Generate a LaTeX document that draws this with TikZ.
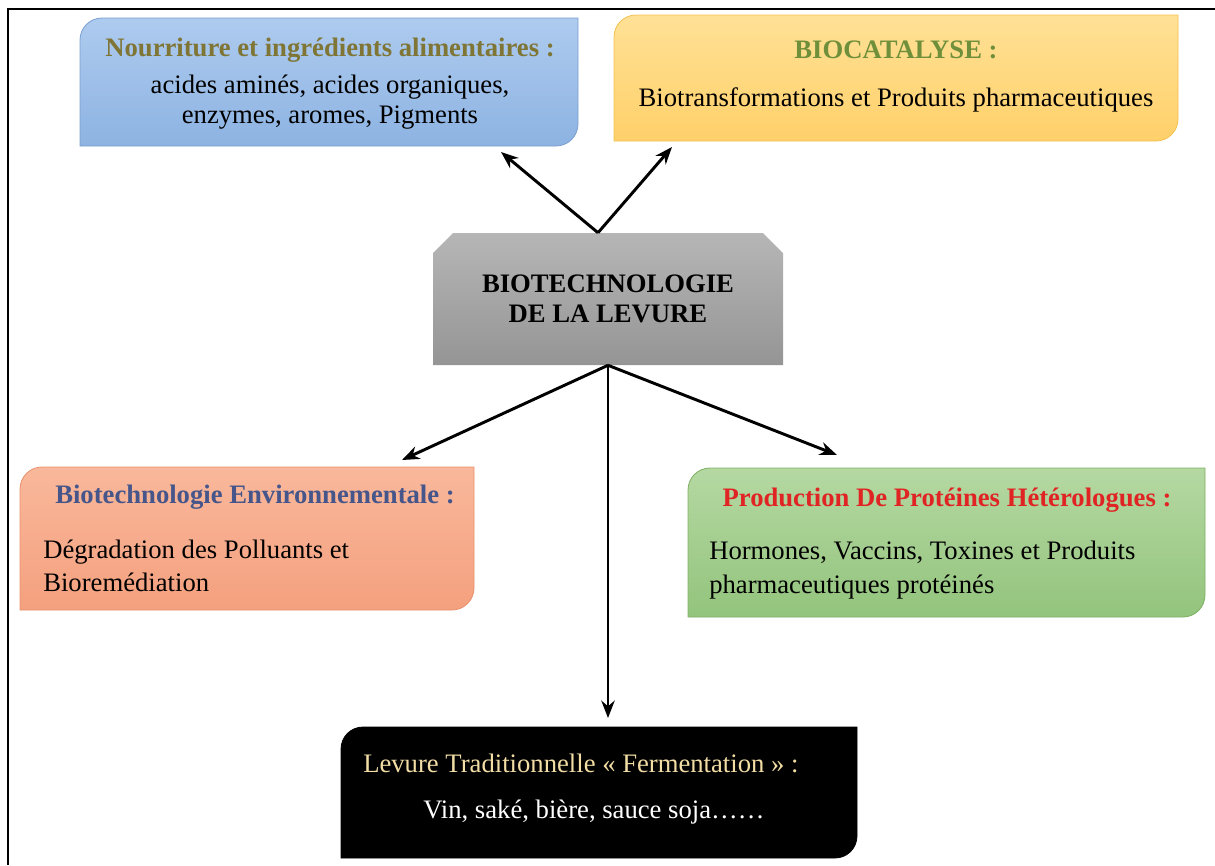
\documentclass[tikz,border=0pt]{standalone}
\usepackage{fontspec}
\setmainfont{Liberation Serif}
\usetikzlibrary{arrows.meta,positioning}

\definecolor{bleuH}{HTML}{AECBEF}
\definecolor{bleuB}{HTML}{8DB3E2}
\definecolor{bleuT}{HTML}{7A9FD0}
\definecolor{jauneH}{HTML}{FFE196}
\definecolor{jauneB}{HTML}{FFD06A}
\definecolor{jauneT}{HTML}{F2C14E}
\definecolor{grisH}{HTML}{B6B6B6}
\definecolor{grisB}{HTML}{959595}
\definecolor{saumonH}{HTML}{F9B89B}
\definecolor{saumonB}{HTML}{F4A07E}
\definecolor{saumonT}{HTML}{E8916C}
\definecolor{vertH}{HTML}{B5D8A2}
\definecolor{vertB}{HTML}{93C47D}
\definecolor{vertT}{HTML}{7DAF62}
\definecolor{titreolive}{HTML}{7F7535}
\definecolor{titrevert}{HTML}{6F8F3A}
\definecolor{titrebleu}{HTML}{46568A}
\definecolor{titrerouge}{HTML}{E02424}
\definecolor{titreor}{HTML}{F2DDA4}

% cadre arrondi en haut a gauche et en bas a droite
\newcommand{\boite}[7]{%
  \shade[top color=#5,bottom color=#6,draw=#7,line width=0.6pt]
    (#1,#4) -- (#1,#2+22) arc(180:270:22) -- (#3,#2) -- (#3,#4-22) arc(0:90:22) -- cycle;}

\tikzset{
  titre/.style={font=\fontsize{20}{22.5}\selectfont\bfseries, inner sep=0pt},
  corps/.style={font=\fontsize{20}{25}\selectfont, inner sep=0pt},
  fleche/.style={-{Stealth[length=13pt,width=10pt]}, line width=2.2pt}
}

\begin{document}
\begin{tikzpicture}[x=0.75pt,y=-0.75pt]
\useasboundingbox (0,0) rectangle (1215,865);

% Cadre
\draw[line width=1.6pt] (8,865) -- (8,9) -- (1215,9);

% Nourriture
\boite{80}{18}{578}{146}{bleuH}{bleuB}{bleuT}
\node[titre,text=titreolive] (nourritureT) at (330,50) {Nourriture et ingrédients alimentaires :};
\node[corps,align=center,font=\fontsize{20}{22.5}\selectfont] (nourriture) at (330,102) {acides aminés, acides organiques,\\enzymes, aromes, Pigments};

% Biocatalyse
\boite{614}{15}{1178}{141}{jauneH}{jauneB}{jauneT}
\node[titre,text=titrevert] (biocatT) at (896,50) {BIOCATALYSE :};
\node[corps] (biocat) at (896,100) {Biotransformations et Produits pharmaceutiques};

% Levure (centre)
\shade[top color=grisH,bottom color=grisB] (433,365) -- (433,253) -- (453,233) -- (763,233) -- (783,253) -- (783,365) -- cycle;
\node[titre,align=center,minimum width=262.5pt,minimum height=99pt] (levure) at (608,299) {BIOTECHNOLOGIE\\DE LA LEVURE};

% Environnement
\boite{20}{467}{474}{610}{saumonH}{saumonB}{saumonT}
\node[titre,text=titrebleu] (environT) at (255,497) {Biotechnologie Environnementale :};
\node[corps,anchor=west,align=left] (environ) at (43,566) {Dégradation des Polluants et\\Bioremédiation};

% Proteines
\boite{688}{468}{1205}{617}{vertH}{vertB}{vertT}
\node[titre,text=titrerouge] (proteinesT) at (947,500) {Production De Protéines Hétérologues :};
\node[corps,anchor=west,align=left] (proteines) at (709,570) {Hormones, Vaccins, Toxines et Produits\\pharmaceutiques protéinés};

% Fermentation
\boite{341}{727}{857}{858}{black}{black}{black}
\node[corps,anchor=west,text=titreor] (traditionT) at (363,763) {Levure Traditionnelle « Fermentation » :};
\node[corps,anchor=west,text=white] (tradition) at (423,812) {Vin, saké, bière, sauce soja……};

% Fleches
\coordinate (finNourriture) at (501,152);
\coordinate (finBiocat) at (672,147);
\coordinate (finEnviron) at (402,460);
\coordinate (finProteines) at (837,455);
\coordinate (finTradition) at (608,718);
\draw[fleche] ([xshift=-7.5pt]levure.north) -- (finNourriture);
\draw[fleche] ([xshift=-7.5pt]levure.north) -- (finBiocat);
\draw[fleche] (levure.south) -- (finEnviron);
\draw[fleche] (levure.south) -- (finProteines);
\draw[fleche] (levure.south) -- (finTradition);
\end{tikzpicture}
\end{document}
